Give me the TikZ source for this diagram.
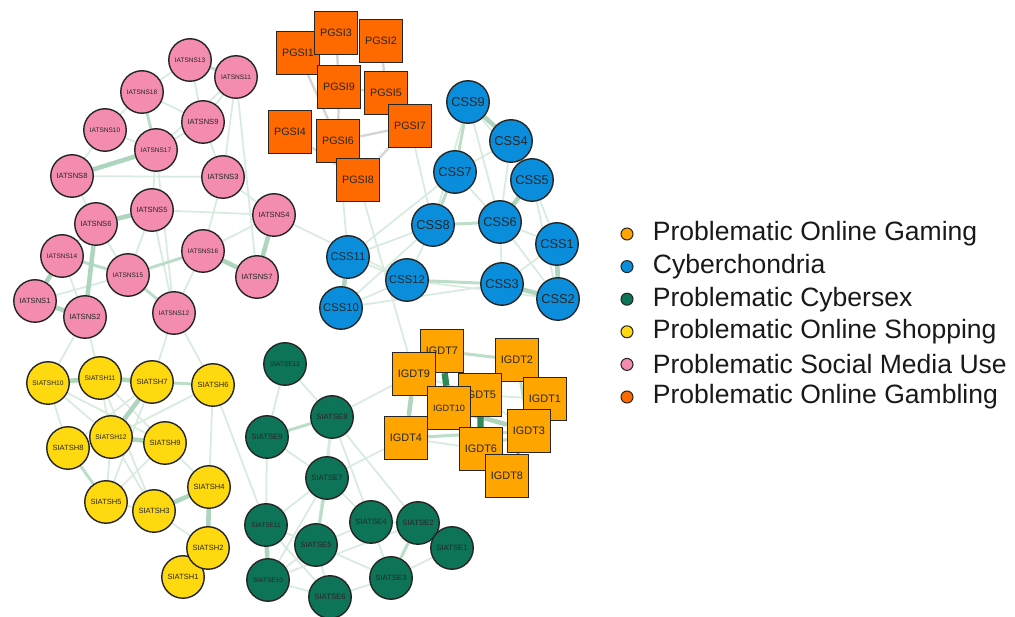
\documentclass[tikz,border=0pt]{standalone}
\usepackage{fontspec}
\setmainfont{Liberation Sans}
\usetikzlibrary{positioning,backgrounds}
\definecolor{gamec}{HTML}{FFA500}
\definecolor{cyberc}{HTML}{0A8EDB}
\definecolor{sexc}{HTML}{0E7457}
\definecolor{shopc}{HTML}{FFD90F}
\definecolor{socialc}{HTML}{F48CB0}
\definecolor{gamblec}{HTML}{FF6A00}
\definecolor{edgec}{HTML}{D8EBDF}
\definecolor{edgemid}{HTML}{BCDDC8}
\definecolor{edgedark}{HTML}{2E8B57}
\definecolor{edgegrey}{HTML}{D6D6D6}
\begin{document}
\begin{tikzpicture}[
		x=0.02cm, y=-0.02cm,
		item/.style={circle, draw=black!85, line width=0.8pt, minimum size=0.85cm, inner sep=0pt, text=black!85},
		sqitem/.style={rectangle, draw=black!85, line width=0.8pt, minimum size=0.86cm, inner sep=0pt, text=black!85},
		weak/.style={draw=edgec, line width=1pt},
		mid/.style={draw=edgemid, line width=1.7pt},
		strong/.style={draw=edgemid!90!edgedark, line width=2.6pt},
		dark/.style={draw=edgedark, line width=3.6pt},
		neg/.style={draw=edgegrey, line width=1.4pt},
		legdot/.style={circle, draw=black!85, line width=0.6pt, minimum size=0.24cm, inner sep=0pt},
		legtext/.style={inner sep=0pt, font=\fontsize{15.1}{17}\selectfont, text=black!90}
	]
		\useasboundingbox (0,0) rectangle (1015,617);
		% social media use
		\foreach \n/\x/\y/\f in {IATSNS13/190/60/3.7, IATSNS11/236/77/3.7, IATSNS18/142/92/3.7,
			IATSNS9/203/122/4.3, IATSNS10/105/130/3.7, IATSNS17/156/150/3.7, IATSNS8/72/176/4.3,
			IATSNS3/223/177/4.3, IATSNS5/152/210/4.3, IATSNS4/274/215/4.3, IATSNS6/96/224/4.3,
			IATSNS14/62/256/3.7, IATSNS16/203/251/3.7, IATSNS15/128/275/3.7, IATSNS7/257/277/4.3,
			IATSNS1/35/301/4.3, IATSNS2/85/317/4.3, IATSNS12/174/313/3.7} {
			\node[item, fill=socialc, font=\fontsize{\f}{\f}\selectfont] (\n) at (\x,\y) {\n};
		}
		% gambling
		\foreach \n/\x/\y in {PGSI1/298/53, PGSI3/336/33, PGSI2/381/41, PGSI9/339/87, PGSI5/386/93,
			PGSI7/410/126, PGSI4/290/132, PGSI6/338/141, PGSI8/358/180} {
			\node[sqitem, fill=gamblec, font=\fontsize{6.1}{6}\selectfont] (\n) at (\x,\y) {\n};
		}
		% cyberchondria
		\foreach \n/\x/\y/\f in {CSS9/468/102/7.3, CSS4/511/141/7.3, CSS7/455/172/7.3, CSS5/532/180/7.3,
			CSS8/433/225/7.3, CSS6/500/222/7.3, CSS1/557/244/7.3, CSS11/348/257/6.4, CSS12/407/280/6.4,
			CSS3/502/284/7.3, CSS2/558/299/7.3, CSS10/341/308/6.4} {
			\node[item, fill=cyberc, font=\fontsize{\f}{\f}\selectfont] (\n) at (\x,\y) {\n};
		}
		% shopping
		\foreach \n/\x/\y/\f in {SIATSH10/48/383/3.8, SIATSH11/100/378/3.8, SIATSH7/152/382/4.3,
			SIATSH6/213/385/4.3, SIATSH8/68/448/4.3, SIATSH12/111/437/3.8, SIATSH9/165/443/4.3,
			SIATSH4/209/487/4.3, SIATSH5/106/502/4.3, SIATSH3/154/511/4.3, SIATSH1/183/577/4.3,
			SIATSH2/208/548/4.3} {
			\node[item, fill=shopc, font=\fontsize{\f}{\f}\selectfont] (\n) at (\x,\y) {\n};
		}
		% cybersex
		\foreach \n/\x/\y/\f in {SIATSE12/285/364/3.7, SIATSE8/332/417/4.4, SIATSE9/267/437/4.4,
			SIATSE7/327/478/4.4, SIATSE11/266/525/3.7, SIATSE4/371/522/4.4, SIATSE2/418/523/4.4,
			SIATSE5/316/545/4.4, SIATSE1/452/548/4.4, SIATSE3/391/578/4.4, SIATSE10/268/580/3.7,
			SIATSE6/330/597/4.4} {
			\node[item, fill=sexc, font=\fontsize{\f}{\f}\selectfont] (\n) at (\x,\y) {\n};
		}
		% gaming
		\foreach \n/\x/\y/\f in {IGDT7/442/351/6.2, IGDT9/414/374/6.2, IGDT2/517/360/6.2,
			IGDT5/480/395/6.2, IGDT1/545/399/6.2, IGDT10/449/408/5.2, IGDT4/406/438/6.2,
			IGDT3/529/431/6.2, IGDT6/481/449/6.2, IGDT8/507/476/6.2} {
			\node[sqitem, fill=gamec, font=\fontsize{\f}{\f}\selectfont] (\n) at (\x,\y) {\n};
		}
		\begin{pgfonlayer}{background}
			\foreach \a/\b in {IATSNS13/IATSNS18, IATSNS13/IATSNS9, IATSNS18/IATSNS9, IATSNS18/IATSNS10,
				IATSNS11/IATSNS9, IATSNS11/IATSNS3, IATSNS11/IATSNS7, IATSNS11/IATSNS17, IATSNS10/IATSNS17,
				IATSNS10/IATSNS8, IATSNS17/IATSNS9, IATSNS17/IATSNS12, IATSNS17/IATSNS5, IATSNS8/IATSNS3,
				IATSNS8/IATSNS6, IATSNS9/IATSNS3, IATSNS3/IATSNS16, IATSNS4/IATSNS16, IATSNS5/IATSNS15,
				IATSNS5/IATSNS4, IATSNS5/IATSNS12, IATSNS6/IATSNS14, IATSNS6/IATSNS15, IATSNS14/IATSNS2,
				IATSNS1/IATSNS15, IATSNS16/IATSNS12, IATSNS3/IATSNS4, IATSNS2/SIATSH10, IATSNS2/SIATSH11,
				IATSNS12/SIATSH7, IATSNS12/SIATSH6, IATSNS4/CSS12,
				SIATSH10/SIATSH12, SIATSH10/SIATSH8, SIATSH10/SIATSH9, SIATSH11/SIATSH12, SIATSH11/SIATSH9,
				SIATSH11/SIATSH3, SIATSH7/SIATSH8, SIATSH7/SIATSH5, SIATSH6/SIATSH12, SIATSH6/SIATSH4,
				SIATSH12/SIATSH5, SIATSH12/SIATSH3, SIATSH9/SIATSH4, SIATSH9/SIATSH5, SIATSH5/SIATSH3,
				SIATSH3/SIATSH2, SIATSH2/SIATSH1, SIATSH6/SIATSE11,
				SIATSE12/SIATSE9, SIATSE12/SIATSE8, SIATSE9/SIATSE7, SIATSE9/SIATSE11, SIATSE8/SIATSE7,
				SIATSE8/SIATSE4, SIATSE8/SIATSE2, SIATSE8/SIATSE5, SIATSE7/SIATSE11, SIATSE7/SIATSE10,
				SIATSE7/SIATSE4, SIATSE11/SIATSE5, SIATSE11/SIATSE6, SIATSE5/SIATSE10, SIATSE5/SIATSE6,
				SIATSE5/SIATSE4, SIATSE5/SIATSE3, SIATSE10/SIATSE6, SIATSE10/SIATSE2, SIATSE4/SIATSE3,
				SIATSE4/SIATSE2, SIATSE2/SIATSE1, SIATSE3/SIATSE1, SIATSE6/SIATSE3, SIATSE7/IGDT4,
				SIATSE8/IGDT9,
				CSS9/CSS8, CSS9/CSS5, CSS9/CSS6, CSS4/CSS7, CSS4/CSS6, CSS7/CSS6, CSS5/CSS1, CSS5/CSS2,
				CSS8/CSS12, CSS8/CSS11, CSS8/CSS10, CSS6/CSS1, CSS6/CSS3, CSS6/CSS2, CSS1/CSS3, CSS12/CSS2,
				CSS11/CSS12, CSS10/CSS12, CSS10/CSS3, CSS7/CSS11, PGSI8/IGDT9, PGSI6/CSS11, PGSI7/CSS8,
				IGDT9/IGDT5, IGDT5/IGDT1, IGDT4/IGDT10, IGDT5/IGDT3, IGDT4/IGDT6, IGDT1/IGDT3} {
				\draw[weak] (\a) -- (\b);
			}
			\foreach \a/\b in {IATSNS13/IATSNS11, IATSNS18/IATSNS17, IATSNS14/IATSNS15, IATSNS15/IATSNS16,
				IATSNS15/IATSNS12, SIATSH7/SIATSH6, SIATSH8/SIATSH5, SIATSE9/SIATSE8, SIATSE7/SIATSE5,
				SIATSE2/SIATSE3, CSS9/CSS7, CSS7/CSS8, CSS8/CSS6, CSS12/CSS3, IGDT7/IGDT2, IGDT2/IGDT1,
				IGDT2/IGDT3, IGDT4/IGDT3, IGDT9/IGDT10, IGDT6/IGDT3, IGDT6/IGDT8} {
				\draw[mid] (\a) -- (\b);
			}
			\foreach \a/\b in {IATSNS17/IATSNS8, IATSNS4/IATSNS7, IATSNS5/IATSNS6, IATSNS6/IATSNS2,
				IATSNS14/IATSNS1, IATSNS1/IATSNS2, IATSNS16/IATSNS7, SIATSH10/SIATSH11, SIATSH11/SIATSH7,
				SIATSH7/SIATSH12, SIATSH12/SIATSH9, SIATSH3/SIATSH4, SIATSH4/SIATSH2, SIATSE11/SIATSE10,
				CSS9/CSS4, CSS4/CSS5, CSS5/CSS6, CSS1/CSS2, CSS3/CSS2, CSS11/CSS10, IGDT9/IGDT4,
				IGDT10/IGDT3} {
				\draw[strong] (\a) -- (\b);
			}
			\foreach \a/\b in {IGDT7/IGDT10, IGDT5/IGDT6, IGDT3/IGDT8} {
				\draw[dark] (\a) -- (\b);
			}
			\foreach \a/\b in {PGSI1/PGSI9, PGSI3/PGSI9, PGSI2/PGSI5, PGSI9/PGSI5, PGSI1/PGSI6,
				PGSI4/PGSI8, PGSI6/PGSI7, PGSI7/PGSI8, PGSI9/PGSI6} {
				\draw[neg] (\a) -- (\b);
			}
		\end{pgfonlayer}
		% legend
		\foreach \i/\c/\t in {1/gamec/Problematic Online Gaming, 2/cyberc/Cyberchondria,
			3/sexc/Problematic Cybersex, 4/shopc/Problematic Online Shopping,
			5/socialc/Problematic Social Media Use, 6/gamblec/Problematic Online Gambling} {
			\node[legdot, fill=\c] (L\i) at (627, {234+32.6*(\i-1)}) {};
			\node[legtext, right=0.38cm of L\i] (T\i) {\t};
		}
	\end{tikzpicture}
\end{document}
